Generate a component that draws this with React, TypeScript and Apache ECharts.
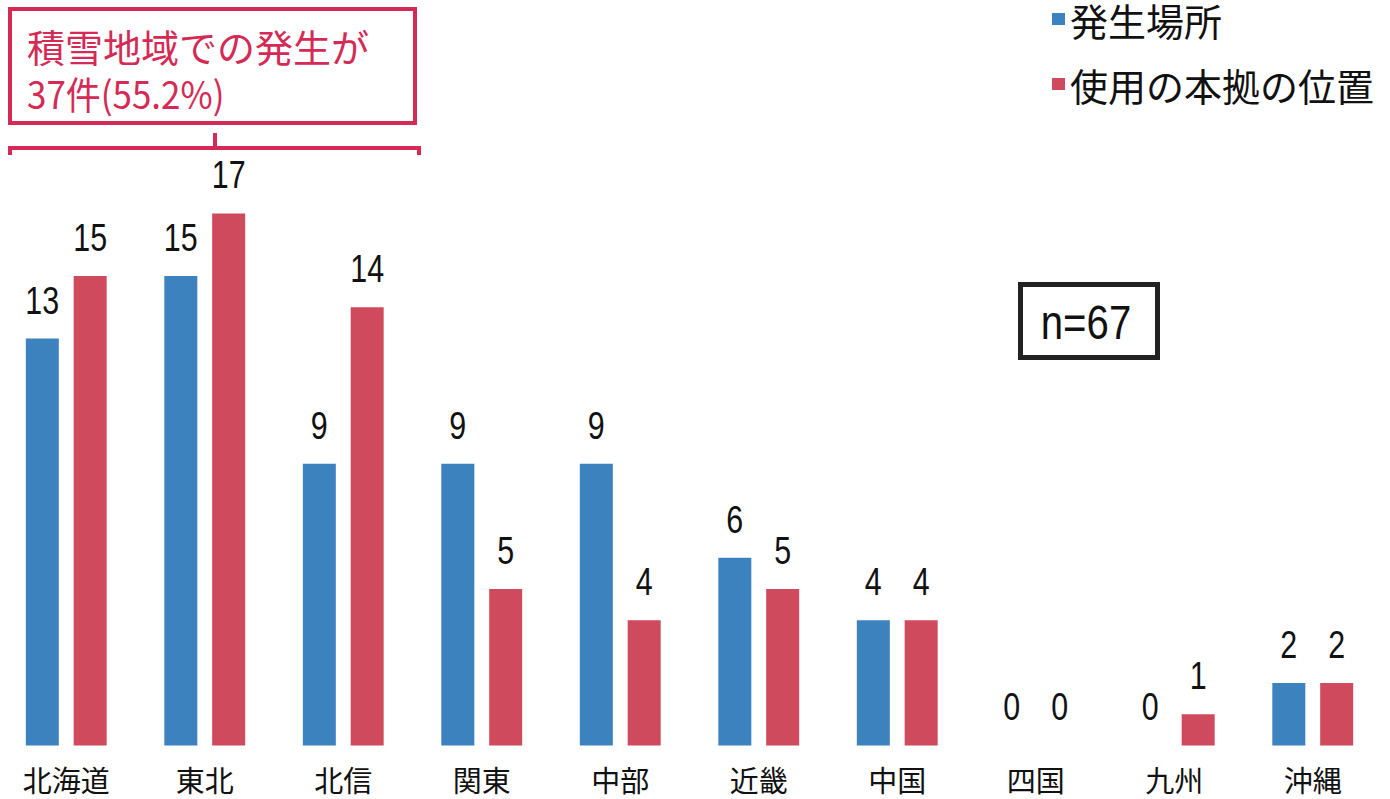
import React, { useEffect, useRef } from "react";
import * as echarts from "echarts";

const categories = ["北海道", "東北", "北信", "関東", "中部", "近畿", "中国", "四国", "九州", "沖縄"];
const occurrencePlace = [13, 15, 9, 9, 9, 6, 4, 0, 0, 2];
const homeBase = [15, 17, 14, 5, 4, 5, 4, 0, 1, 2];
const seriesNames = ["発生場所", "使用の本拠の位置"];
const annotationLines = ["積雪地域での発生が", "37件(55.2%)"];
const sampleText = "n=67";

const BLUE = "#3b82bf";
const RED = "#cf4a5d";
const CRIMSON = "#d42a55";
const NUM_FONT = "'Liberation Sans', Arial, sans-serif";
const CJK_FONT = "'Noto Sans CJK JP', 'Noto Sans', sans-serif";
const OX = 10; // chart canvas is shifted left by OX px

function labelSeries(values: number[], offset: number) {
  return {
    type: "custom",
    silent: true,
    z: 5,
    data: values.map((v, i) => [i, v]),
    renderItem: (params: any, api: any) => {
      const pt = api.coord([api.value(0), api.value(1)]);
      return {
        type: "text",
        x: pt[0] + offset,
        y: pt[1] - 39,
        scaleX: 0.78,
        style: {
          text: String(api.value(1)),
          fontSize: 39,
          fontFamily: NUM_FONT,
          fill: "#111",
          align: "center",
          verticalAlign: "middle",
        },
      };
    },
  };
}

export default function App() {
  const ref = useRef<HTMLDivElement>(null);
  useEffect(() => {
    if (!ref.current) return;
    const chart = echarts.init(ref.current, undefined, { renderer: "svg" });
    chart.setOption({
      animation: false,
      backgroundColor: "#ffffff",
      legend: {
        orient: "vertical",
        left: 1047 + OX,
        top: 0,
        padding: [0, 5, 5, 5],
        itemWidth: 13,
        itemHeight: 12,
        itemGap: 27,
        icon: "rect",
        textStyle: { fontSize: 38, lineHeight: 38, color: "#111", fontFamily: CJK_FONT },
        data: seriesNames,
      },
      grid: { left: OX - 3, right: 8, top: 119.5, bottom: 53.5, containLabel: false },
      xAxis: {
        type: "category",
        data: categories,
        axisLine: { show: false },
        axisTick: { show: false },
        axisLabel: { color: "#111", fontSize: 29, lineHeight: 29, fontFamily: CJK_FONT, margin: 19 },
      },
      yAxis: {
        type: "value",
        min: 0,
        max: 20,
        show: false,
        splitLine: { show: false },
      },
      series: [
        {
          name: seriesNames[0],
          type: "bar",
          data: occurrencePlace,
          barWidth: 33,
          barGap: "45%",
          itemStyle: { color: BLUE },
        },
        {
          name: seriesNames[1],
          type: "bar",
          data: homeBase,
          barWidth: 33,
          itemStyle: { color: RED },
        },
        labelSeries(occurrencePlace, -24),
        labelSeries(homeBase, 24),
      ],
      graphic: [
        {
          type: "rect",
          shape: { x: 10 + OX, y: 9, width: 405, height: 114 },
          style: { fill: "#fff", stroke: CRIMSON, lineWidth: 4 },
        },
        {
          type: "text",
          x: 27 + OX,
          y: 45,
          style: {
            text: annotationLines[0],
            fontSize: 38,
            lineHeight: 38,
            fontFamily: CJK_FONT,
            fill: CRIMSON,
            verticalAlign: "middle",
          },
        },
        {
          type: "text",
          x: 27 + OX,
          y: 93,
          scaleX: 0.92,
          style: {
            text: annotationLines[1],
            fontSize: 38,
            lineHeight: 38,
            fontFamily: CJK_FONT,
            fill: CRIMSON,
            verticalAlign: "middle",
          },
        },
        {
          type: "polyline",
          shape: { points: [[10 + OX, 155], [10 + OX, 148], [419 + OX, 148], [419 + OX, 155]] },
          style: { stroke: CRIMSON, lineWidth: 4, fill: null },
        },
        {
          type: "line",
          shape: { x1: 215 + OX, y1: 133, x2: 215 + OX, y2: 148 },
          style: { stroke: CRIMSON, lineWidth: 4 },
        },
        {
          type: "rect",
          shape: { x: 1020.5 + OX, y: 284.5, width: 137, height: 73 },
          style: { fill: "#fff", stroke: "#222", lineWidth: 5 },
        },
        {
          type: "text",
          x: 1086 + OX,
          y: 322,
          scaleX: 0.82,
          style: {
            text: sampleText,
            fontSize: 49,
            fontFamily: NUM_FONT,
            fill: "#111",
            align: "center",
            verticalAlign: "middle",
          },
        },
      ],
    });
    return () => chart.dispose();
  }, []);
  return (
    <div
      ref={ref}
      style={{ position: "absolute", left: -OX, top: 0, width: 1390 + OX, height: 799 }}
    />
  );
}
